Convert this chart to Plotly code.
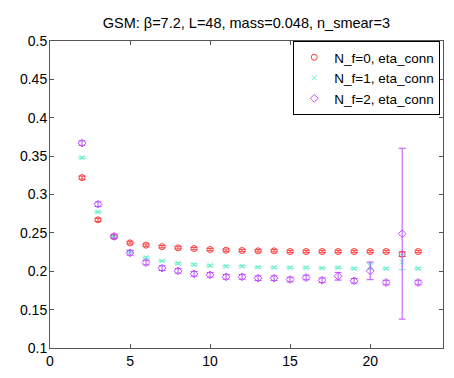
import plotly.graph_objects as go

# time slices
t = list(range(2, 24))

# N_f=0
nf0 = [0.322, 0.267, 0.245, 0.237, 0.234, 0.232, 0.2305, 0.2296, 0.2283, 0.2274, 0.2270,
       0.2266, 0.2266, 0.2257, 0.2257, 0.2257, 0.2257, 0.2257, 0.2257, 0.2257, 0.2222, 0.2257]
nf0_err = [0.002, 0.002, 0.0015, 0.0015, 0.0015, 0.0015, 0.0015, 0.0015, 0.0015, 0.0015, 0.0015,
           0.0015, 0.0015, 0.0015, 0.0015, 0.0015, 0.0015, 0.0015, 0.0015, 0.0015, 0.003, 0.0015]

# N_f=1
nf1 = [0.348, 0.2773, 0.2445, 0.2256, 0.2178, 0.2135, 0.2104, 0.2087, 0.2074, 0.2065, 0.2065,
       0.2052, 0.2050, 0.2048, 0.2048, 0.2040, 0.2048, 0.2035, 0.2065, 0.2035, 0.2120, 0.2035]
nf1_err = [0.001, 0.001, 0.001, 0.001, 0.001, 0.001, 0.001, 0.001, 0.001, 0.001, 0.001,
           0.001, 0.001, 0.001, 0.001, 0.001, 0.001, 0.001, 0.004, 0.001, 0.010, 0.001]

# N_f=2
nf2 = [0.367, 0.2873, 0.2455, 0.2240, 0.2113, 0.2040, 0.2005, 0.1966, 0.1953, 0.1927, 0.1927,
       0.1910, 0.1910, 0.1892, 0.1918, 0.1883, 0.1935, 0.1875, 0.2005, 0.1853, 0.2489, 0.1853]
nf2_err = [0.003, 0.003, 0.003, 0.003, 0.003, 0.003, 0.003, 0.003, 0.003, 0.003, 0.003,
           0.003, 0.003, 0.003, 0.003, 0.003, 0.005, 0.003, 0.0115, 0.003, 0.1113, 0.003]

fig = go.Figure()

series = [
   ("N_f=0, eta_conn", nf0, nf0_err, "#ff3b3b", "circle-open", 6),
   ("N_f=1, eta_conn", nf1, nf1_err, "#6ff0d0", "x-thin-open", 5),
   ("N_f=2, eta_conn", nf2, nf2_err, "#c04cff", "diamond-open", 6),
]

for name, y, err, col, sym, sz in series:
   fig.add_trace(go.Scatter(
      x=t, y=y, name=name, mode="markers",
      marker=dict(symbol=sym, size=sz, color=col, line=dict(color=col, width=1)),
      error_y=dict(type="data", array=err, visible=True, color=col, thickness=1, width=3.5),
   ))

axis_style = dict(
   showline=True, linecolor="#555555", linewidth=1, mirror="allticks",
   ticks="inside", ticklen=4, tickcolor="#555555", showgrid=False, zeroline=False,
   tickfont=dict(family="Liberation Sans, Arial", size=14, color="black"),
)

fig.update_xaxes(range=[0, 24.55], tickvals=[0, 5, 10, 15, 20], **axis_style)
fig.update_yaxes(range=[0.1, 0.5], tickvals=[0.1, 0.15, 0.2, 0.25, 0.3, 0.35, 0.4, 0.45, 0.5],
                 ticktext=["0.1", "0.15", "0.2", "0.25", "0.3", "0.35", "0.4", "0.45", "0.5"],
                 ticklabelstandoff=-1, **axis_style)

fig.update_layout(
   width=454,
   height=378,
   margin=dict(l=42, r=19, t=33, b=38),
   paper_bgcolor="white",
   plot_bgcolor="white",
   font=dict(family="Liberation Sans, Arial", size=14, color="black"),
   title=dict(text="GSM: β=7.2, L=48, mass=0.048, n_smear=3",
              x=0.525, xanchor="center", y=0.96, yanchor="middle",
              font=dict(size=14.5)),
   legend=dict(x=0.993, y=1.0, xanchor="right", yanchor="top",
               bgcolor="white", bordercolor="black", borderwidth=1,
               font=dict(size=13.5), itemwidth=30, tracegroupgap=0),
)

fig.write_html("out.html")
